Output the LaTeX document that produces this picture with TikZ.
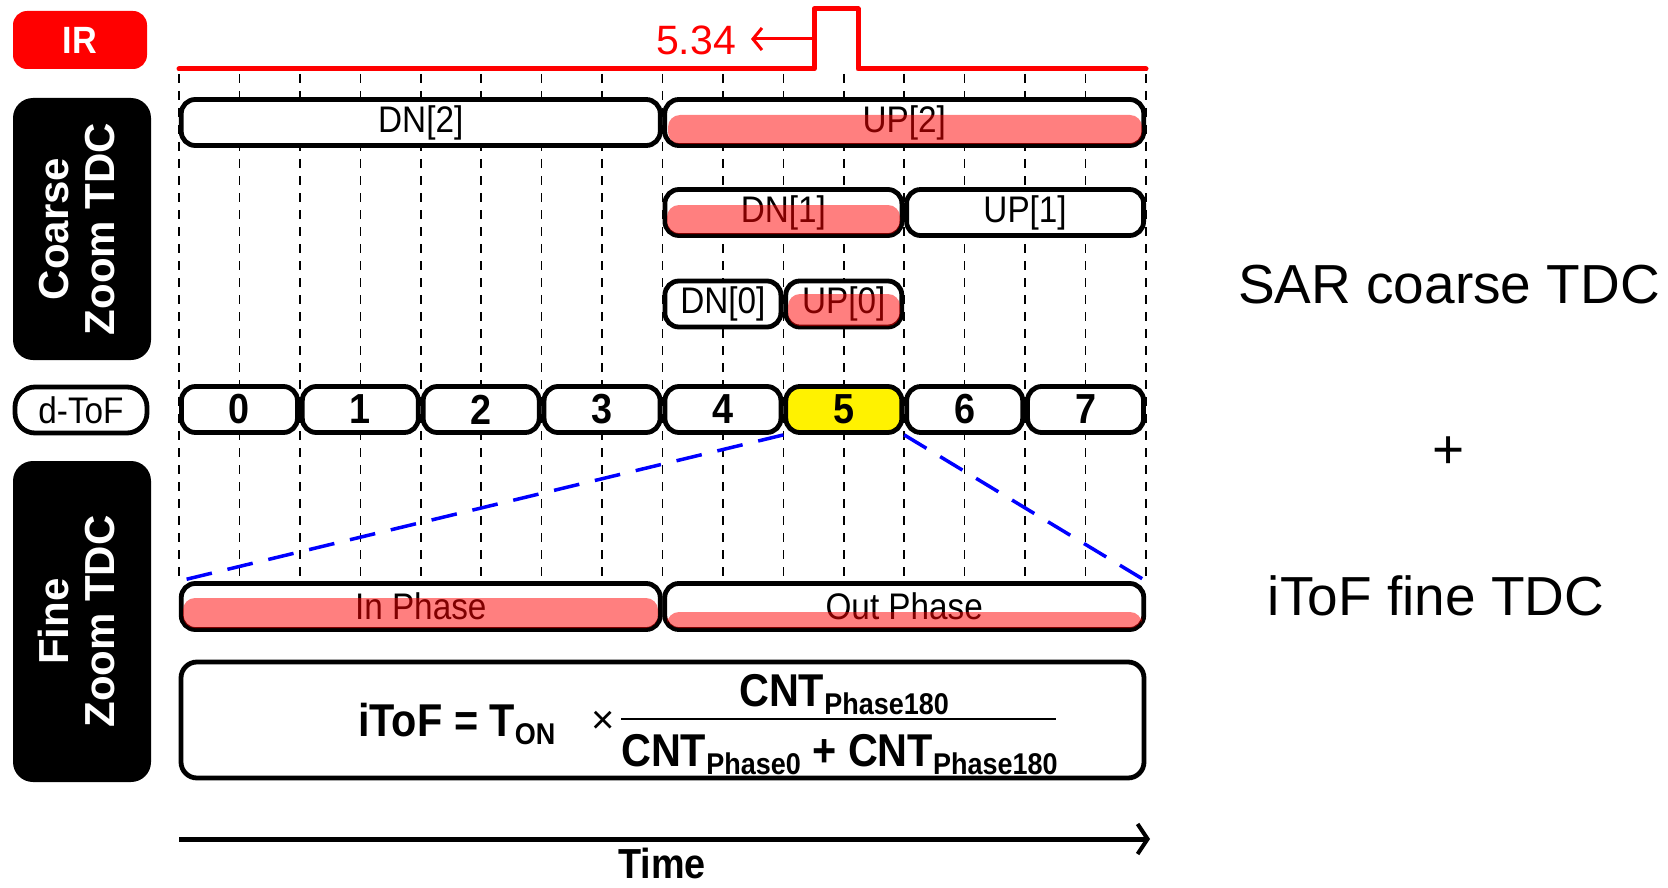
\documentclass[tikz,border=0pt]{standalone}
\usepackage{fontspec}
\setmainfont{Liberation Sans}
\newfontfamily\nf[FakeStretch=0.9]{Liberation Sans}
\usetikzlibrary{arrows.meta}
\begin{document}
\begin{tikzpicture}[x=1pt,y=-1pt,
  seg/.style={draw=black,line width=4.8pt,rounded corners=14pt,fill=white,inner sep=0pt,minimum height=46pt,
    font=\nf\fontsize{37}{40}\selectfont},
  num/.style={seg,font=\nf\bfseries\fontsize{42}{44}\selectfont},
  ovl/.style={fill=red,fill opacity=0.5,rounded corners=12pt},
  grid/.style={line width=1.6pt,dash pattern=on 9pt off 8pt},
  side/.style={fill=black,rounded corners=20pt,inner sep=0pt,text=white,
    font=\bfseries\fontsize{42}{50}\selectfont,align=center},
  big/.style={font=\fontsize{55}{60}\selectfont},
  bluedash/.style={blue,line width=3.5pt,dash pattern=on 26pt off 16pt},
  fml/.style={inner sep=0pt,font=\nf\bfseries\fontsize{46}{48}\selectfont}
]
\useasboundingbox (0,0) rectangle (1668,888);
\newcommand{\subtx}[1]{\raisebox{-8pt}{\fontsize{30}{30}\selectfont #1}}

% grid lines
\foreach \i in {0,...,16}
  \draw[grid] (179+\i*60.4375,74) -- (179+\i*60.4375,583);

% IR label and signal
\node[fill=red,rounded corners=14pt,minimum width=134pt,minimum height=58pt,inner sep=0pt,
  text=white,font=\nf\bfseries\fontsize{38}{40}\selectfont] (ir) at (80,40) {IR};
\coordinate (s0) at (179,69);
\coordinate (p1) at (814,69);
\coordinate (p2) at (814,9);
\coordinate (p3) at (858,9);
\coordinate (p4) at (858,69);
\coordinate (s1) at (1146,69);
\draw[red,line width=5pt,line join=round,line cap=round] (s0) -- (p1) -- (p2) -- (p3) -- (p4) -- (s1);
\coordinate (a0) at (814,39);
\node[red,anchor=east,font=\fontsize{41}{44}\selectfont,inner sep=0pt] (val) at (736,40) {5.34};
\draw[red,line width=3pt,-{Straight Barb[length=9pt,width=22pt,line width=3pt]}] (a0) -- (751,39);

% side labels
\node[side,minimum width=138pt,minimum height=262pt] (coarse) at (82,229)
  {\rotatebox{90}{\begin{tabular}{@{}c@{}}Coarse\\[-4pt]Zoom TDC\end{tabular}}};
\node[side,minimum width=138pt,minimum height=321pt] (fine) at (82,621.5)
  {\rotatebox{90}{\begin{tabular}{@{}c@{}}Fine\\[-4pt]Zoom TDC\end{tabular}}};
\node[seg,minimum width=132pt,minimum height=46pt,rounded corners=20pt] (dlab) at (81,410) {d-ToF};

% coarse rows
\node[seg,minimum width=479pt] (dn2) at (420.75,122.5) {DN[2]};
\node[seg,minimum width=479pt] (up2) at (904.25,122.5) {UP[2]};
\fill[ovl] (668,115) rectangle (1142,144);
\node[seg,minimum width=237pt] (dn1) at (783.4,212.5) {DN[1]};
\node[seg,minimum width=237pt] (up1) at (1025.1,212.5) {UP[1]};
\fill[ovl] (667,205) rectangle (900,234);
\node[seg,minimum width=116pt] (dn0) at (722.9,304) {DN[0]};
\node[seg,minimum width=116pt] (up0) at (843.8,304) {UP[0]};
\fill[ovl] (788,294) rectangle (900,326);

% d-ToF bins
\foreach \k in {0,1,2,3,4,6,7}
  \node[num,minimum width=116pt] (d\k) at (179+60.4375+\k*120.875,409.5) {\k};
\node[num,minimum width=116pt,fill=yellow] (d5) at (179+60.4375+5*120.875,409.5) {5};

% phase boxes
\node[seg,minimum width=479pt] (inph) at (420.75,606.5) {In Phase};
\node[seg,minimum width=479pt] (outph) at (904.25,606.5) {Out Phase};
\fill[ovl] (183,598) rectangle (658,628);
\fill[ovl] (667,612) rectangle (1142,628);

% zoom lines
\draw[bluedash] (d5.south west) -- (inph.north west);
\draw[bluedash] (d5.south east) -- (outph.north east);

% formula box
\node[draw,line width=4.8pt,rounded corners=16pt,minimum width=963pt,minimum height=116pt,inner sep=0pt] (fbox) at (662.5,720) {};
\node[fml,anchor=base west] (lhs) at (358,736) {iToF = T\subtx{ON}};
\node[inner sep=0pt,font=\fontsize{40}{42}\selectfont] (times) at (603,722) {×};
\node[fml,anchor=base] (numer) at (844,706) {CNT\subtx{Phase180}};
\coordinate (b0) at (621,719);
\coordinate (b1) at (1056,719);
\draw[line width=2.5pt] (b0) -- (b1);
\node[fml,anchor=base west] (denom) at (621,766) {CNT\subtx{Phase0} + CNT\subtx{Phase180}};

% time axis
\coordinate (t0) at (179,839);
\coordinate (t1) at (1150,839);
\draw[line width=5pt,-{Straight Barb[length=10pt,width=30pt,line width=4pt]}] (t0) -- (t1);
\node[font=\nf\bfseries\fontsize{42}{44}\selectfont,inner sep=0pt,anchor=base] (time) at (662,878) {Time};

% right texts
\node[big] (sar) at (1449,285) {SAR coarse TDC};
\node[big] (plus) at (1449,453) {+};
\node[big] (itof) at (1436,596) {iToF fine TDC};
\end{tikzpicture}
\end{document}
